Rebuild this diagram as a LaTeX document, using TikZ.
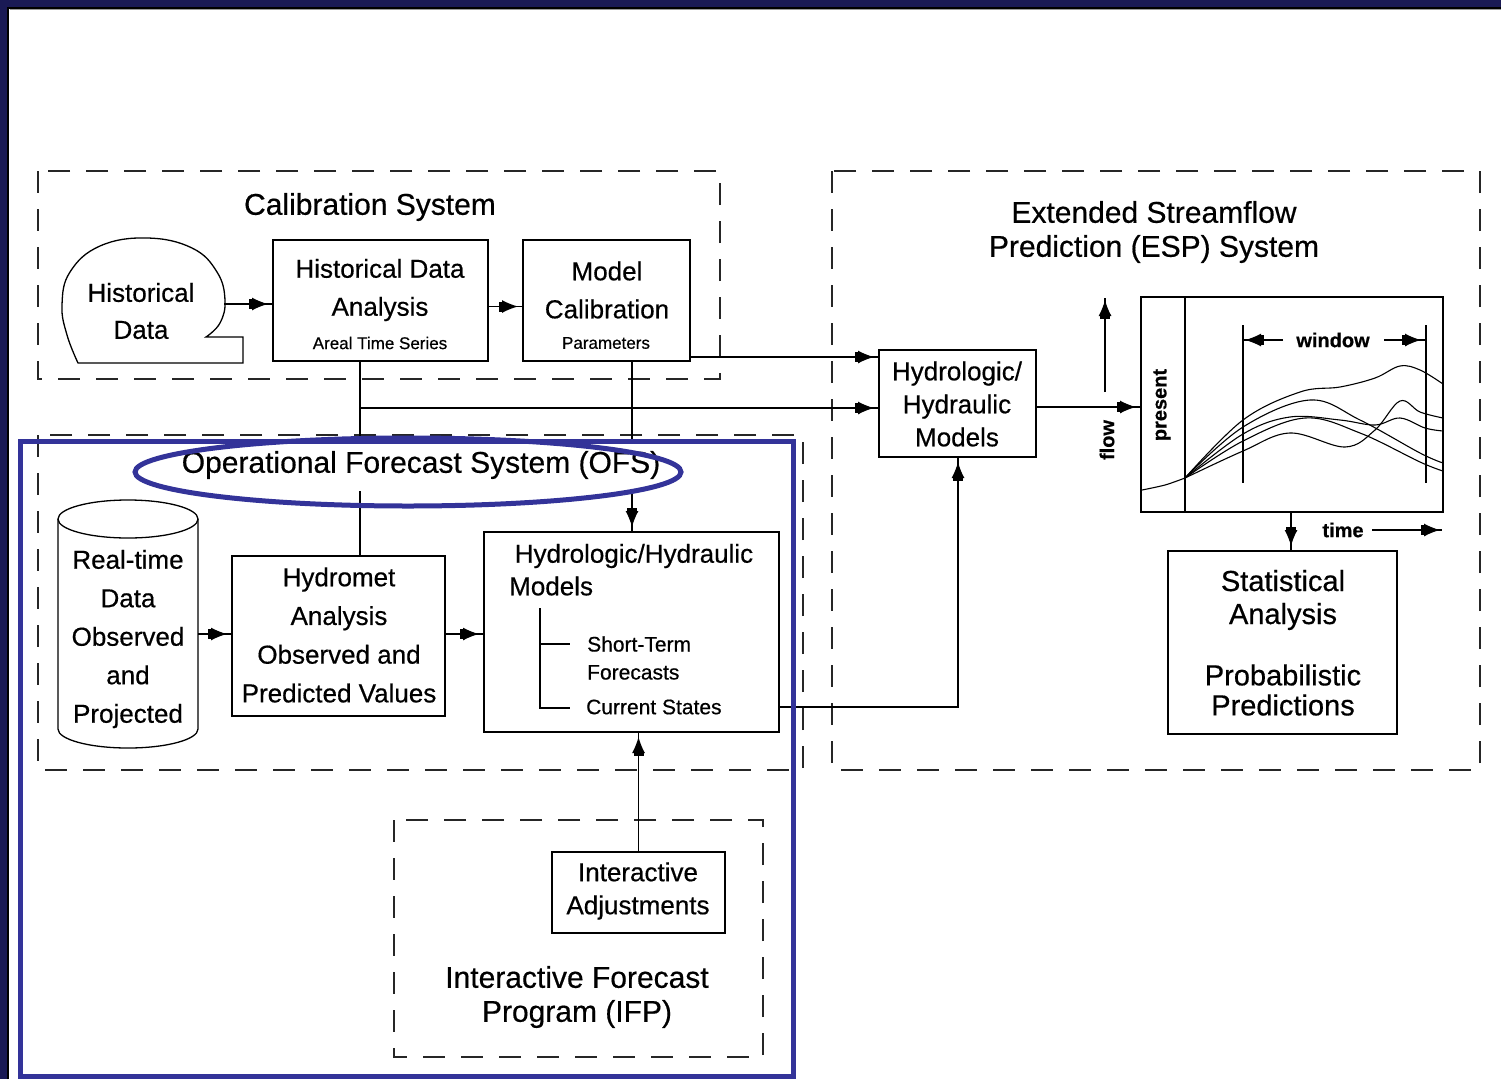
\documentclass[tikz,border=0pt]{standalone}
\usepackage{fontspec}
\setmainfont{Liberation Sans}[FakeBold=0.5]
\usetikzlibrary{arrows.meta,decorations.markings,calc}
\definecolor{navy}{HTML}{1A1A55}
\definecolor{hlblue}{HTML}{333399}
\newcommand\fsz[2]{\fontsize{#1}{#2}\selectfont}
\begin{document}
\begin{tikzpicture}[x=1pt,y=-1pt,
  box/.style={draw, line width=1.4pt, inner sep=0pt, outer sep=0pt},
  dbox/.style={draw, line width=1.6pt, dash pattern=on 22pt off 16pt, black!85},
  con/.style={line width=1.3pt},
  headtip/.tip={Rectangle[length=3pt,width=10pt] Latex[length=16pt,width=13pt]},
  arr/.style={con, postaction={decorate}, decoration={markings, mark=at position -5pt with {\arrow{headtip}}}},
  arrnear/.style={con, postaction={decorate}, decoration={markings, mark=at position -2pt with {\arrow{headtip}}}},
  txt/.style={inner sep=0pt, align=center, font={\fsz{26}{38}}},
  ttl/.style={inner sep=0pt, align=center, font={\fsz{30}{34}}},
  sml/.style={inner sep=0pt, align=center, font={\fsz{17}{20}}},
  lbl/.style={inner sep=0pt, align=left, font={\fsz{21}{28}}},
  glbl/.style={inner sep=0pt, font={\bfseries\fsz{20}{24}}},
  curve/.style={line width=1.1pt}
]
\useasboundingbox (0,0) rectangle (1501,1079);
% frame
\fill[navy] (0,0) rectangle (1501,1079);
\fill[white] (8,8) rectangle (1501,1079);
\draw[black, line width=1.5pt] (8,1079) -- (8,8) -- (1501,8);
\draw[black!40, line width=1pt] (9.5,9.5) -- (1501,9.5);

% dashed system boxes
\draw[dbox] (38,171) rectangle (720,379);
\draw[dbox] (832,171) rectangle (1480,770);
\draw[dbox] (38,435) rectangle (803,770);
\draw[dbox] (394,820) rectangle (763,1057);

% titles
\node[ttl] (caltitle) at (370,207) {Calibration System};
\node[ttl] (esptitle) at (1154,232) {Extended Streamflow\\Prediction (ESP) System};
\node[ttl] (ifptitle) at (577,997) {Interactive Forecast\\Program (IFP)};

% historical data blob
\draw[line width=1.3pt] plot[smooth, tension=0.7] coordinates {(206,337) (220,323) (225,300) (217,272) (192,248) (147,238) (100,246) (70,272) (62,305) (67,335) (78,363)} -- (243,363) -- (243,337) -- cycle;
\node[txt, font={\fsz{26}{37}}] (histtxt) at (141,311) {Historical\\Data};
\coordinate (histR) at (224,304);

% boxes
\node[box, minimum width=215pt, minimum height=121pt] (hda) at (380.5,300.5) {};
\node[txt] (hdatxt) at (380,290) {Historical Data\\Analysis};
\node[sml] (hdasub) at (380,343) {Areal Time Series};

\node[box, minimum width=167pt, minimum height=121pt] (mc) at (606.5,300.5) {};
\node[txt] (mctxt) at (607,290) {Model\\Calibration};
\node[sml] (mcsub) at (606,343) {Parameters};

\node[box, minimum width=157pt, minimum height=107pt] (hhm) at (957.5,403.5) {};
\node[txt, font={\fsz{26}{33}}] (hhmtxt) at (957,404) {Hydrologic/\\Hydraulic\\Models};

\node[box, minimum width=302pt, minimum height=215pt] (gr) at (1292,404.5) {};
\node[box, minimum width=229pt, minimum height=183pt] (stat) at (1282.5,642.5) {};
\node[inner sep=0pt, align=center, font={\fsz{29}{33}}] (stattxt1) at (1283,600) {Statistical\\Analysis};
\node[inner sep=0pt, align=center, font={\fsz{29}{30}}] (stattxt2) at (1283,690) {Probabilistic\\Predictions};

% cylinder
\node[minimum width=140pt, minimum height=230pt, inner sep=0pt, outer sep=0pt] (rt) at (128,625) {};
\draw[line width=1.3pt] (128,519) ellipse [x radius=70, y radius=19];
\draw[line width=1.3pt] (58,519) -- (58,729) arc[start angle=180, end angle=360, x radius=70, y radius=-19] -- (198,519);
\node[txt, font={\fsz{26}{38.5}}] (rttxt) at (128,639) {Real-time\\Data\\Observed\\and\\Projected};

\node[box, minimum width=213pt, minimum height=160pt] (hmet) at (338.5,636) {};
\node[txt, font={\fsz{26}{38.7}}] (hmettxt) at (339,635) {Hydromet\\Analysis\\Observed and\\Predicted Values};

\node[box, minimum width=295pt, minimum height=200pt] (ofshh) at (631.5,632) {};
\node[txt] (ofshhtxt) at (634,556) {Hydrologic/Hydraulic};
\node[txt, anchor=west] (ofsmodels) at (509,586) {Models};
\node[lbl, anchor=west] (stf) at (587,658) {Short-Term\\Forecasts};
\node[lbl, anchor=west] (cst) at (586,707) {Current States};
\coordinate (tr1) at (540,608);
\coordinate (tr2) at (540,708);
\draw[con] (tr1) -- (tr2) -- ++(30,0);
\draw[con] (540,644) -- ++(30,0);

\node[box, minimum width=173pt, minimum height=81pt] (ia) at (638.5,892.5) {};
\node[txt, font={\fsz{26}{33}}] (iatxt) at (638,891) {Interactive\\Adjustments};

% graph contents
\coordinate (presX) at (1185,0);
\draw[line width=1.3pt] (gr.north -| presX) -- (gr.south -| presX);
\node[glbl, rotate=90] (present) at (1162,405) {present};
\node[glbl, rotate=90] (flow) at (1107,440) {flow};
\coordinate (flowbot) at (1105,392);
\coordinate (flowtop) at (1105,298);
\draw[arrnear] (flowbot) -- (flowtop);
\coordinate (wl) at (1243,325);
\coordinate (wr) at (1426,325);
\draw[con] (wl) -- ++(0,158);
\draw[con] (wr) -- ++(0,158);
\node[glbl] (window) at (1333,340) {window};
\coordinate (wlA) at (1283,340);
\coordinate (wrA) at (1384,340);
\draw[arrnear] (wlA) -- (wlA -| wl);
\draw[arr] (wrA) -- (wrA -| wr);
\node[glbl] (time) at (1343,530) {time};
\coordinate (tA) at (1372,530);
\coordinate (tB) at (1442,530);
\draw[arrnear] (tA) -- (tB);

\draw[curve] plot[smooth] coordinates {(1142,490) (1165,485) (1185,478)};
\draw[curve] plot[smooth, tension=0.6] coordinates {(1185,478) (1243,420) (1300,392) (1340,387) (1375,378) (1400,366) (1420,370) (1443,384)};
\draw[curve] plot[smooth, tension=0.6] coordinates {(1185,478) (1243,427) (1310,400) (1360,420) (1420,453) (1443,463)};
\draw[curve] plot[smooth, tension=0.6] coordinates {(1185,478) (1243,434) (1290,417) (1340,420) (1375,425) (1400,418) (1425,428) (1443,431)};
\draw[curve] plot[smooth, tension=0.6] coordinates {(1185,478) (1243,441) (1305,418) (1360,433) (1420,462) (1443,471)};
\draw[curve] plot[smooth, tension=0.6] coordinates {(1185,478) (1243,451) (1290,433) (1345,447) (1375,430) (1400,401) (1420,412) (1443,418)};

% connectors
\coordinate (vA) at (360,0);
\coordinate (vB) at (632,0);
\coordinate (vC) at (958,0);
\coordinate (j1) at (360,408);
\coordinate (h357) at (0,357);
\coordinate (h634) at (0,634);
\coordinate (h707) at (0,707);
\coordinate (h407) at (0,407);
\coordinate (vD) at (1291,0);

\draw[arr] (histR) -- (histR -| hda.west);
\draw[arr] ($(hda.east)+(0,6)$) -- ($(mc.west)+(0,6)$);
\draw[arr] (mc.east |- h357) -- (hhm.west |- h357);
\draw[con] (hda.south -| vA) -- (hmet.north -| vA);
\draw[arr] (j1) -- (j1 -| hhm.west);
\draw[arr] (mc.south -| vB) -- (ofshh.north -| vB);
\draw[arr] (rt.east |- h634) -- (hmet.west |- h634);
\draw[arr] (hmet.east |- h634) -- (ofshh.west |- h634);
\draw[arr] (ofshh.east |- h707) -| (hhm.south -| vC);
\draw[arr] (ia.north) -- (ofshh.south -| ia.north);
\draw[arr] (hhm.east |- h407) -- (gr.west |- h407);
\draw[arr] (gr.south -| vD) -- (stat.north -| vD);

% OFS title (covers the lines behind it)
\node[ttl, fill=white, minimum height=52pt, inner xsep=4pt] (ofstitle) at (421,465) {Operational Forecast System (OFS)};

% blue highlights
\draw[hlblue, line width=5pt] (20,441) rectangle (793,1076);
\draw[hlblue, line width=5pt] (408,472) ellipse [x radius=273, y radius=34];
\end{tikzpicture}
\end{document}
